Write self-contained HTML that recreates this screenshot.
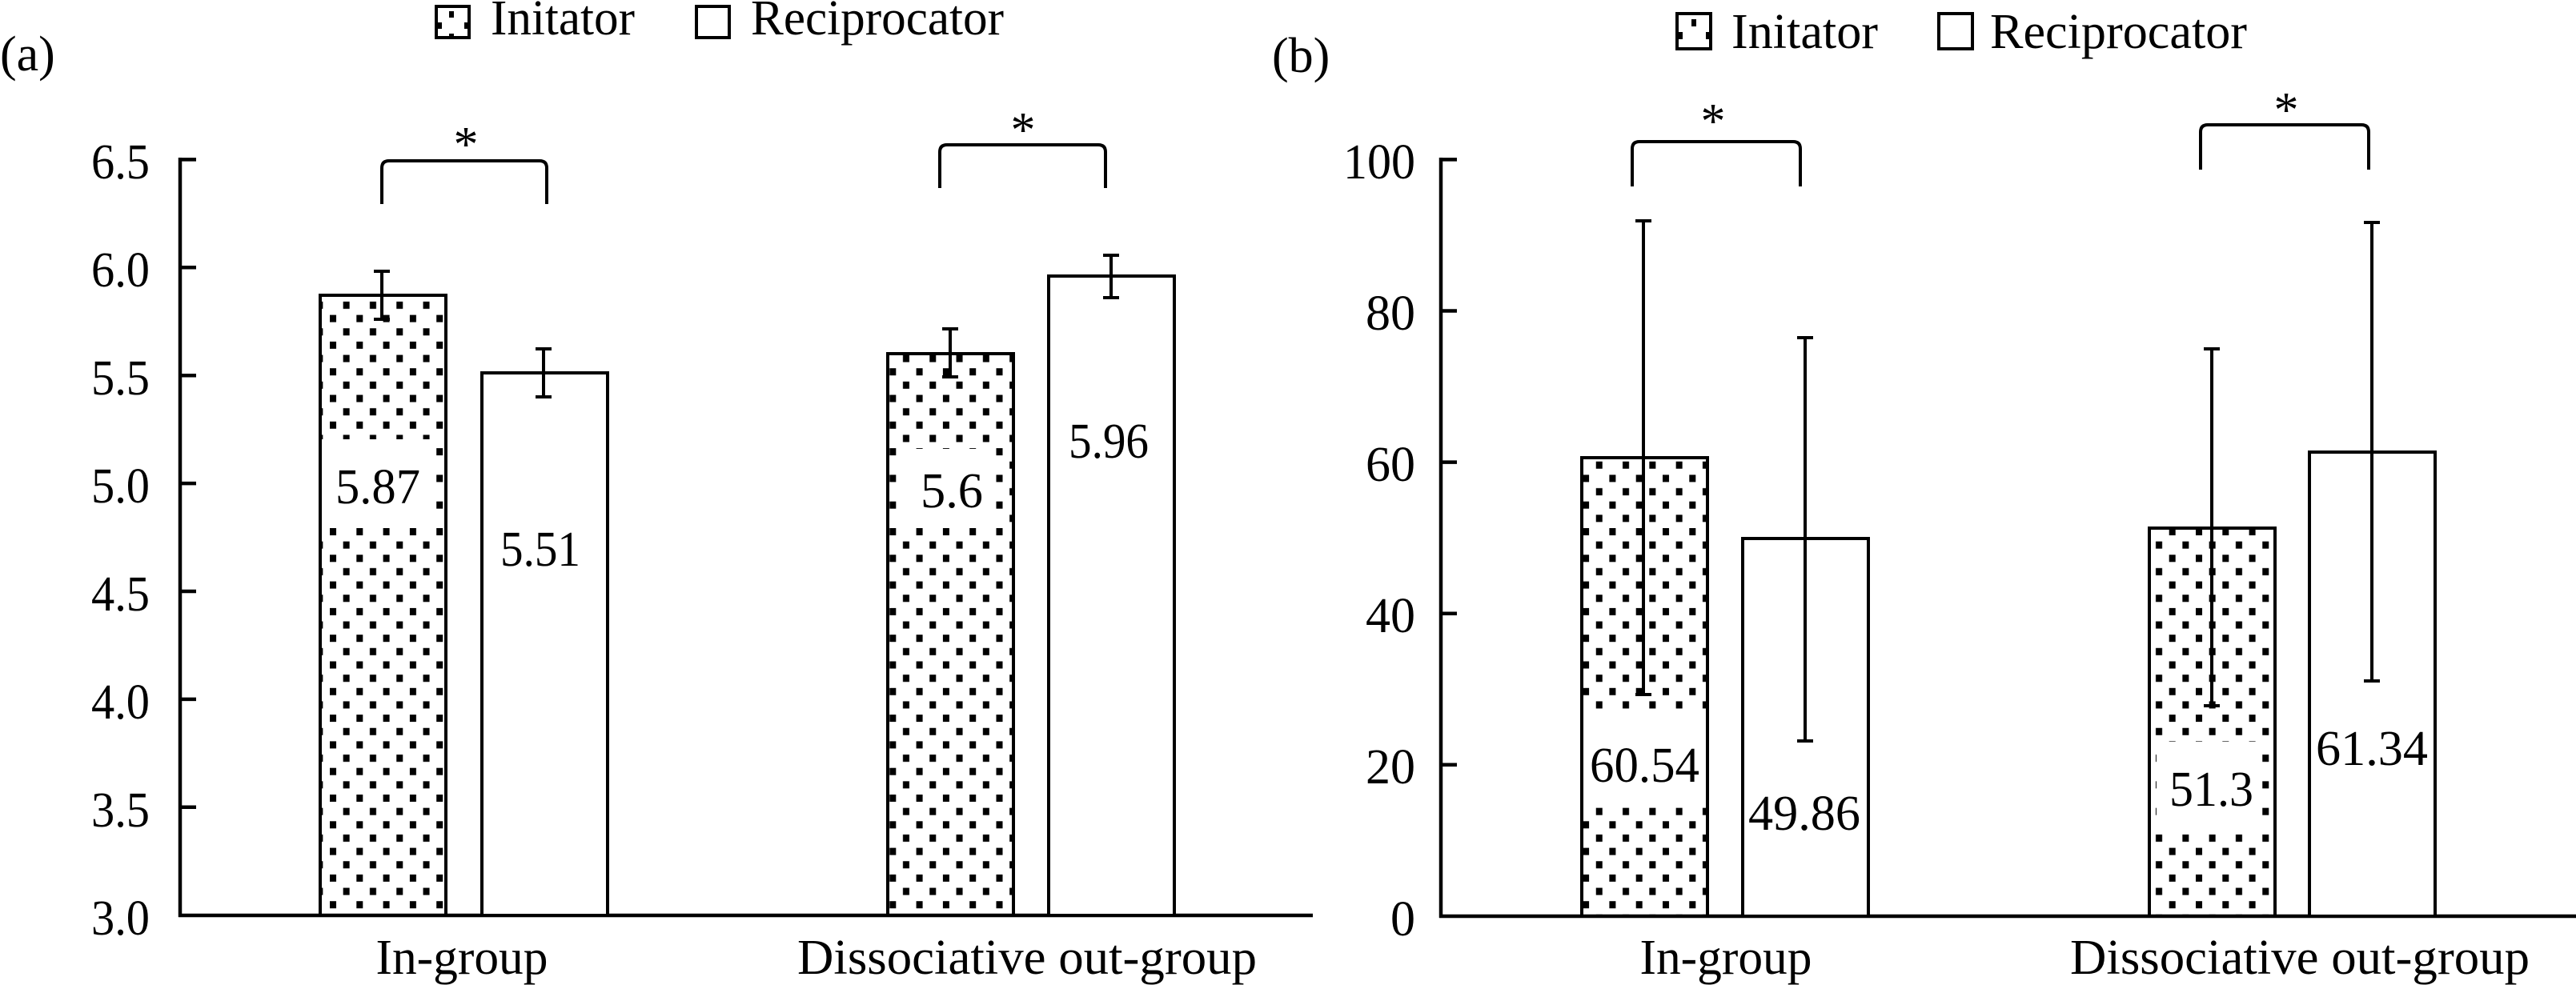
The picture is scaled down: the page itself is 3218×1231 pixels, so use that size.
<!DOCTYPE html>
<html><head><meta charset="utf-8"><style>
html,body{margin:0;padding:0;background:#fff;}
svg{display:block;}
text{font-family:"Liberation Serif",serif;font-size:62px;fill:#000;}
</style></head><body>
<svg width="3218" height="1231" viewBox="0 0 3218 1231" xmlns="http://www.w3.org/2000/svg">
<defs>
<pattern id="dots" patternUnits="userSpaceOnUse" x="412" y="660" width="33.3" height="33.3">
<rect x="0" y="0" width="8" height="9" fill="#000"/>
<rect x="16.65" y="16.65" width="8" height="9" fill="#000"/>
</pattern>
</defs>
<g stroke="#000" fill="none">
<line x1="225" y1="197" x2="225" y2="1146" stroke-width="4.5"/>
<line x1="223" y1="1144" x2="1640" y2="1144" stroke-width="4.5"/>
<g stroke-width="4.5">
<line x1="225" y1="199.4" x2="245" y2="199.4"/>
<line x1="225" y1="334.3" x2="245" y2="334.3"/>
<line x1="225" y1="469.2" x2="245" y2="469.2"/>
<line x1="225" y1="604.1" x2="245" y2="604.1"/>
<line x1="225" y1="739" x2="245" y2="739"/>
<line x1="225" y1="873.9" x2="245" y2="873.9"/>
<line x1="225" y1="1008.8" x2="245" y2="1008.8"/>
</g>
<line x1="1800" y1="197" x2="1800" y2="1147" stroke-width="4.5"/>
<line x1="1798" y1="1145" x2="3218" y2="1145" stroke-width="4.5"/>
<g stroke-width="4.5">
<line x1="1800" y1="199.4" x2="1820" y2="199.4"/>
<line x1="1800" y1="388.5" x2="1820" y2="388.5"/>
<line x1="1800" y1="577.6" x2="1820" y2="577.6"/>
<line x1="1800" y1="766.7" x2="1820" y2="766.7"/>
<line x1="1800" y1="955.8" x2="1820" y2="955.8"/>
</g>
</g>
<!-- Panel A bars -->
<rect x="400" y="369" width="157" height="775" fill="url(#dots)" stroke="#000" stroke-width="4"/>
<rect x="602" y="466" width="157" height="678" fill="#fff" stroke="#000" stroke-width="4"/>
<rect x="1109" y="442" width="157" height="702" fill="url(#dots)" stroke="#000" stroke-width="4"/>
<rect x="1310" y="345" width="157" height="799" fill="#fff" stroke="#000" stroke-width="4"/>
<rect x="402" y="549" width="142" height="108" fill="#fff"/>
<rect x="1125" y="561" width="118" height="92" fill="#fff"/>
<!-- Panel B bars -->
<rect x="1976" y="572" width="157" height="573" fill="url(#dots)" stroke="#000" stroke-width="4"/>
<rect x="2177" y="673" width="157" height="472" fill="#fff" stroke="#000" stroke-width="4"/>
<rect x="2685" y="660" width="157" height="485" fill="url(#dots)" stroke="#000" stroke-width="4"/>
<rect x="2885" y="565" width="157" height="580" fill="#fff" stroke="#000" stroke-width="4"/>
<rect x="1978" y="893" width="153" height="114" fill="#fff"/>
<rect x="2694" y="927" width="128" height="110" fill="#fff"/>
<g stroke="#000" stroke-width="4" fill="none">
<path d="M477 339V399M467 339H487M467 399H487"/>
<path d="M679 436V496M669 436H689M669 496H689"/>
<path d="M1187 411V471M1177 411H1197M1177 471H1197"/>
<path d="M1388 319V372M1378 319H1398M1378 372H1398"/>
<path d="M2053 276V868M2043 276H2063M2043 868H2063"/>
<path d="M2255 422V926M2245 422H2265M2245 926H2265"/>
<path d="M2763 436V882M2753 436H2773M2753 882H2773"/>
<path d="M2963 278V851M2953 278H2973M2953 851H2973"/>
<path d="M477 255V210Q477 201 486 201H674Q683 201 683 210V255"/>
<path d="M1174 235V190Q1174 181 1183 181H1372Q1381 181 1381 190V235"/>
<path d="M2039 233V186Q2039 177 2048 177H2240Q2249 177 2249 186V233"/>
<path d="M2749 212V165Q2749 156 2758 156H2950Q2959 156 2959 165V212"/>
</g>
<text x="582" y="201" text-anchor="middle">*</text>
<text x="1278" y="183" text-anchor="middle">*</text>
<text x="2140" y="172" text-anchor="middle">*</text>
<text x="2856" y="158" text-anchor="middle">*</text>
<g text-anchor="end">
<text x="187" y="223" textLength="73" lengthAdjust="spacingAndGlyphs">6.5</text>
<text x="187" y="358" textLength="73" lengthAdjust="spacingAndGlyphs">6.0</text>
<text x="187" y="493" textLength="73" lengthAdjust="spacingAndGlyphs">5.5</text>
<text x="187" y="628" textLength="73" lengthAdjust="spacingAndGlyphs">5.0</text>
<text x="187" y="763" textLength="73" lengthAdjust="spacingAndGlyphs">4.5</text>
<text x="187" y="898" textLength="73" lengthAdjust="spacingAndGlyphs">4.0</text>
<text x="187" y="1033" textLength="73" lengthAdjust="spacingAndGlyphs">3.5</text>
<text x="187" y="1168" textLength="73" lengthAdjust="spacingAndGlyphs">3.0</text>
<text x="1768" y="223" textLength="90" lengthAdjust="spacingAndGlyphs">100</text>
<text x="1768" y="412">80</text>
<text x="1768" y="601">60</text>
<text x="1768" y="790">40</text>
<text x="1768" y="979">20</text>
<text x="1768" y="1169">0</text>
</g>
<text x="419" y="629" textLength="106" lengthAdjust="spacingAndGlyphs">5.87</text>
<text x="625" y="707" textLength="100" lengthAdjust="spacingAndGlyphs">5.51</text>
<text x="1150" y="634" textLength="78" lengthAdjust="spacingAndGlyphs">5.6</text>
<text x="1335" y="572" textLength="100" lengthAdjust="spacingAndGlyphs">5.96</text>
<text x="1986" y="977" textLength="137" lengthAdjust="spacingAndGlyphs">60.54</text>
<text x="2184" y="1037" textLength="140" lengthAdjust="spacingAndGlyphs">49.86</text>
<text x="2710" y="1007" textLength="105" lengthAdjust="spacingAndGlyphs">51.3</text>
<text x="2893" y="956" textLength="140" lengthAdjust="spacingAndGlyphs">61.34</text>
<text x="577" y="1217" text-anchor="middle" textLength="215" lengthAdjust="spacingAndGlyphs">In-group</text>
<text x="996" y="1217" textLength="574" lengthAdjust="spacingAndGlyphs">Dissociative out-group</text>
<text x="2156" y="1217" text-anchor="middle" textLength="215" lengthAdjust="spacingAndGlyphs">In-group</text>
<text x="2586" y="1217" textLength="574" lengthAdjust="spacingAndGlyphs">Dissociative out-group</text>
<text x="0" y="88">(a)</text>
<text x="1589" y="90">(b)</text>
<rect x="545" y="8" width="41" height="39" fill="#fff" stroke="#000" stroke-width="4"/>
<rect x="561" y="14" width="6" height="8" fill="#000"/><rect x="547" y="28" width="5" height="8"/><rect x="580" y="28" width="5" height="8"/><rect x="561" y="42" width="6" height="4"/>
<text x="613" y="43" textLength="180" lengthAdjust="spacingAndGlyphs">Initator</text>
<rect x="870" y="8" width="41" height="39" fill="#fff" stroke="#000" stroke-width="4"/>
<text x="938" y="43" textLength="316" lengthAdjust="spacingAndGlyphs">Reciprocator</text>
<rect x="2095" y="17" width="42" height="44" fill="#fff" stroke="#000" stroke-width="4"/>
<rect x="2113" y="24" width="6" height="9"/><rect x="2097" y="40" width="5" height="9"/><rect x="2131" y="40" width="5" height="9"/>
<text x="2163" y="60" textLength="183" lengthAdjust="spacingAndGlyphs">Initator</text>
<rect x="2422" y="17" width="42" height="44" fill="#fff" stroke="#000" stroke-width="4"/>
<text x="2486" y="60" textLength="321" lengthAdjust="spacingAndGlyphs">Reciprocator</text>
</svg>
</body></html>
